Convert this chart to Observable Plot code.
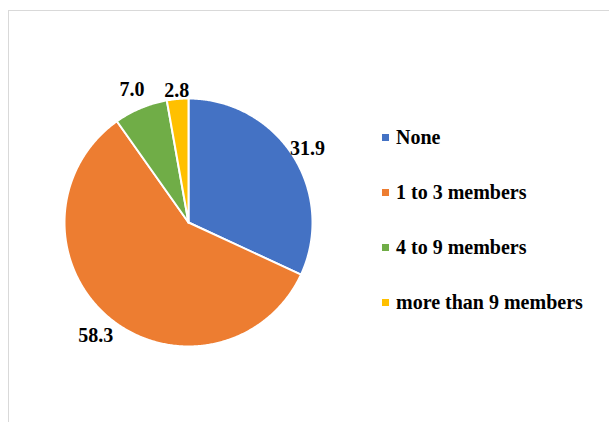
<!DOCTYPE html>
<html>
<head>
<meta charset="utf-8">
<script src="https://cdn.jsdelivr.net/npm/d3@7"></script>
<script src="https://cdn.jsdelivr.net/npm/@observablehq/plot@0.6"></script>
<style>
html, body { margin: 0; padding: 0; background: #fff; width: 609px; height: 422px; overflow: hidden; }
#frame { position: absolute; left: 8px; top: 10px; width: 640px; height: 460px; border: 1px solid #d9d9d9; box-sizing: border-box; }
#chart { position: absolute; left: 0; top: 0; }
#legend { position: absolute; left: 382px; top: 0; }
.item { position: absolute; left: 0; display: flex; align-items: center; white-space: nowrap;
  font: bold 20px "Liberation Serif", "Times New Roman", serif; color: #000; height: 24px; }
.sw { width: 7px; height: 7px; margin-right: 7px; flex: none; }
</style>
</head>
<body>
<div id="frame"></div>
<div id="chart"></div>
<div id="legend"></div>
<script>
// Data
const categories = ["None", "1 to 3 members", "4 to 9 members", "more than 9 members"];
const values = [31.9, 58.3, 7.0, 2.8];
const labels = ["31.9", "58.3", "7.0", "2.8"];
const colors = ["#4472C4", "#ED7D31", "#70AD47", "#FFC000"];

const table = categories.map((c, i) => ({category: c, value: values[i], label: labels[i]}));
const arcs = d3.pie().sort(null).value(d => d.value).startAngle(0).endAngle(2 * Math.PI)(table);

// slice outlines in unit-circle coordinates (angle measured clockwise from 12 o'clock)
const slicePts = [];
for (const a of arcs) {
  const cat = a.data.category;
  slicePts.push({category: cat, x: 0, y: 0});
  const n = Math.max(2, Math.ceil((a.endAngle - a.startAngle) / (Math.PI / 360)));
  for (let k = 0; k <= n; k++) {
    const t = a.startAngle + (a.endAngle - a.startAngle) * k / n;
    slicePts.push({category: cat, x: Math.sin(t), y: Math.cos(t)});
  }
  slicePts.push({category: cat, x: 0, y: 0});
}

const labelR = [1.14, 1.17, 1.18, 1.085];
const labelPts = arcs.map((a, i) => {
  const m = (a.startAngle + a.endAngle) / 2;
  return {label: a.data.label, x: labelR[i] * Math.sin(m), y: labelR[i] * Math.cos(m)};
});

const plot = Plot.plot({
  width: 609,
  height: 422,
  margin: 0,
  style: {background: "transparent", overflow: "visible"},
  x: {domain: [-1, 1], range: [64, 312], axis: null},
  y: {domain: [-1, 1], range: [346, 98], axis: null},
  color: {domain: categories, range: colors},
  marks: [
    Plot.line(slicePts, {x: "x", y: "y", z: "category", fill: "category", stroke: "#fff", strokeWidth: 2, strokeLinejoin: "round", curve: "linear"}),
    Plot.text(labelPts, {x: "x", y: "y", text: "label", dy: 2, fontSize: 20, fontWeight: "bold", fontFamily: "Liberation Serif, Times New Roman, serif", fill: "#000", lineAnchor: "middle"})
  ]
});
document.getElementById("chart").appendChild(plot);

// Legend
const color = plot.scale("color");
const legend = document.getElementById("legend");
const rowY = [125, 180, 235, 290];
categories.forEach((c, i) => {
  const it = document.createElement("div");
  it.className = "item";
  it.style.top = rowY[i] + "px";
  const sw = document.createElement("span");
  sw.className = "sw";
  sw.style.background = color.apply(c);
  const tx = document.createElement("span");
  tx.textContent = c;
  it.appendChild(sw); it.appendChild(tx);
  legend.appendChild(it);
});
</script>
</body>
</html>
